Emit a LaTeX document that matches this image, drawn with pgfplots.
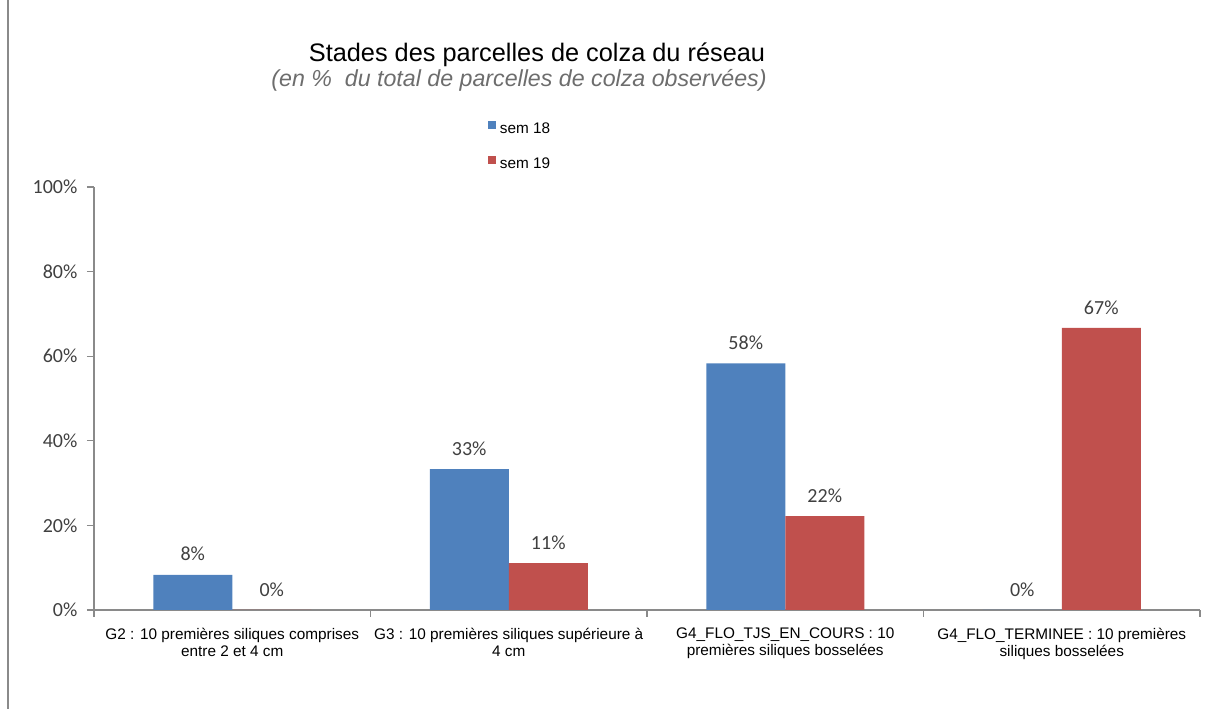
\documentclass[border=0pt]{standalone}
\usepackage{fontspec}
\setmainfont{Liberation Sans}
\newfontfamily\calibri{Carlito}
\usepackage{pgfplots}
\pgfplotsset{compat=1.18}
\definecolor{sblue}{HTML}{4F81BD}
\definecolor{sred}{HTML}{C0504D}
\definecolor{axgray}{HTML}{8A8A8A}
\definecolor{lblgray}{HTML}{404040}
\definecolor{subgray}{HTML}{6D6D6D}

\begin{document}
\begin{tikzpicture}
\path[use as bounding box] (0pt,0pt) rectangle (906.75pt,531.75pt);
\draw[axgray, line width=0.8pt] (6pt,0pt) -- (6pt,531.75pt);
\node[anchor=base, font=\fontsize{19}{22}\selectfont] at (402.75pt,485.5pt)
  {Stades des parcelles de colza du réseau};
\node[anchor=base, font=\fontsize{17.4}{20}\selectfont\itshape, text=subgray] at (389.25pt,466.5pt)
  {(en \%\ \ du total de parcelles de colza observées)};
\begin{axis}[
  at={(70.5pt,74.25pt)}, anchor=south west,
  scale only axis, width=829.5pt, height=317.25pt,
  ybar=0pt, bar width=59.25pt,
  xmin=-0.5, xmax=3.5, ymin=0, ymax=100,
  axis x line*=bottom, axis y line*=left,
  axis line style={-, axgray, line width=0.8pt},
  tick style={axgray, line width=0.8pt},
  tick align=outside,
  major tick length=5.25pt, minor tick length=5.25pt,
  xtick={0,1,2,3},
  major x tick style={draw=none},
  minor xtick={-0.5,0.5,1.5,2.5,3.5},
  xticklabels={{G2 : 10 premières siliques comprises\\entre 2 et 4 cm},
               {G3 : 10 premières siliques supérieure à\\4 cm},
               {G4\_FLO\_TJS\_EN\_COURS : 10\\premières siliques bosselées},
               {G4\_FLO\_TERMINEE : 10 premières\\siliques bosselées}},
  xticklabel style={align=center, anchor=north, inner sep=0pt, yshift=-8pt,
    font=\fontsize{11.5}{12.75}\selectfont},
  ytick={0,20,...,100},
  yticklabel={\pgfmathprintnumber[assume math mode=true]{\tick}\%},
  yticklabel style={anchor=east, inner sep=0pt, xshift=-7pt,
    font=\calibri\fontsize{15}{18}\selectfont, text=lblgray},
  nodes near coords={\pgfmathprintnumber[fixed,precision=0,assume math mode=true]{\pgfplotspointmeta}\%},
  every node near coord/.append style={font=\calibri\fontsize{15}{18}\selectfont,
    text=lblgray, inner sep=0pt, yshift=10pt},
  legend style={at={(axis description cs:0.3562,1.1559)}, anchor=north west,
    draw=none, fill=none, inner sep=0pt, row sep=16.55pt, column sep=3pt,
    font=\fontsize{11.5}{13}\selectfont,
    nodes={inner sep=0pt, text height=8.2pt, text depth=0pt}},
  legend cell align=left,
  legend image code/.code={\fill[#1] (0pt,-0.7pt) rectangle (5.8pt,5.2pt);},
  clip=false,
]
\addplot[fill=sblue, draw=none] coordinates {(0,8.33) (1,33.33) (2,58.33) (3,0)};
\addplot[fill=sred, draw=none] coordinates {(0,0) (1,11.11) (2,22.22) (3,66.67)};
\legend{sem 18, sem 19}
\end{axis}
\end{tikzpicture}
\end{document}
